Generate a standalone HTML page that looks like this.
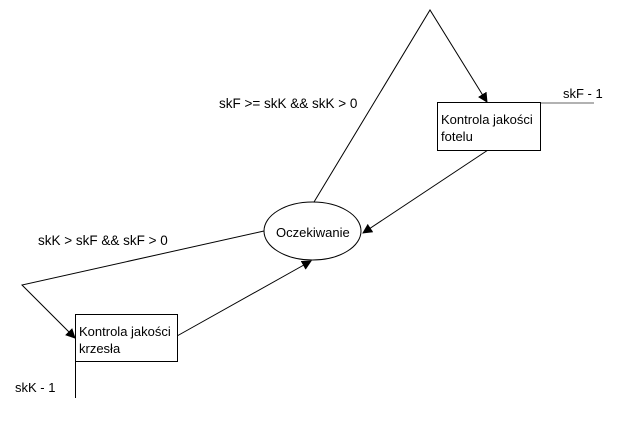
<!DOCTYPE html>
<html><head><meta charset="utf-8"><style>
html,body{margin:0;padding:0;background:#fff;width:620px;height:427px;overflow:hidden}
svg{display:block}
text{font-family:"Liberation Sans",Arial,sans-serif;font-size:13px;fill:#000}
.c{font-size:13.5px}
</style></head><body>
<svg width="620" height="427" viewBox="0 0 620 427" xmlns="http://www.w3.org/2000/svg">
<defs>
<marker id="a" markerWidth="10" markerHeight="10" refX="9" refY="5" orient="auto" markerUnits="userSpaceOnUse">
<path d="M0,0 L10,5 L0,10 z" fill="#000"/>
</marker>
</defs>
<g stroke="#000" stroke-width="1" fill="none">
<polyline points="314,202 430,10 487,102" marker-end="url(#a)"/>
<line x1="488" y1="150" x2="363" y2="233" marker-end="url(#a)"/>
<polyline points="264,231 22,285 75,338" marker-end="url(#a)"/>
<line x1="177" y1="336" x2="311" y2="261" marker-end="url(#a)"/>
<line x1="75.5" y1="361" x2="75.5" y2="398"/>
</g>
<line x1="540" y1="103" x2="594" y2="103" stroke="#999" stroke-width="1.5"/>
<ellipse cx="312.5" cy="231" rx="48.5" ry="29" fill="#fff" stroke="#000"/>
<rect x="437.5" y="102.5" width="103" height="48" fill="#fff" stroke="#000"/>
<rect x="75.5" y="314.5" width="102" height="47" fill="#fff" stroke="#000"/>
<text x="276" y="237">Oczekiwanie</text>
<text x="441" y="124">Kontrola jakości</text>
<text x="441" y="141">fotelu</text>
<text x="79" y="336">Kontrola jakości</text>
<text x="79" y="353">krzesła</text>
<text class="c" x="219" y="108">skF &gt;= skK &amp;&amp; skK &gt; 0</text>
<text class="c" x="38" y="245">skK &gt; skF &amp;&amp; skF &gt; 0</text>
<text x="563" y="98">skF - 1</text>
<text x="15" y="392">skK - 1</text>
</svg>
</body></html>
